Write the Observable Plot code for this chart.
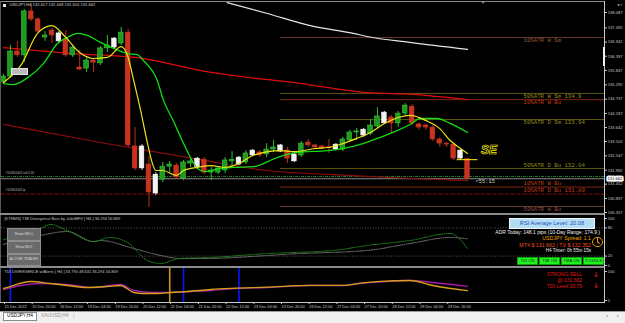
<!DOCTYPE html>
<html>
<head>
<meta charset="utf-8">
<script src="https://cdn.jsdelivr.net/npm/d3@7"></script>
<script src="https://cdn.jsdelivr.net/npm/@observablehq/plot@0.6"></script>
<style>
html,body{margin:0;padding:0;background:#000;}
#wrap{position:relative;width:625px;height:323px;background:#000;overflow:hidden;font-family:"Liberation Sans",Arial,sans-serif;}
#wrap > svg{position:absolute;left:0;top:0;}
.ov{position:absolute;box-sizing:border-box;white-space:nowrap;line-height:1;}
.btn{display:flex;align-items:center;justify-content:center;overflow:hidden;}
</style>
</head>
<body>
<div id="wrap"></div>
<script>
const W = 625, H = 323;
const symbol = "USDJPY,H4";

// ---- H4 candles (bar 0 = 15 Dec 2022 04:00) ----
const open = [
 135.38,135.61,136.58,136.43,138.13,137.82,137.12,137.39,137.28,137.04,
 136.43,135.96,135.92,136.23,136.12,136.70,137.08,136.89,137.31,132.91,
 132.91,132.21,131.82,131.63,132.13,132.17,131.67,132.25,132.44,132.40,
 131.90,131.90,131.98,132.33,132.48,132.29,132.75,132.68,132.60,132.79,
 132.95,132.75,132.60,132.56,133.06,132.95,132.91,132.89,132.98,132.79,
 133.14,133.45,133.56,133.41,133.68,134.22,134.03,133.80,134.18,134.45,
 133.76,133.72,133.64,133.18,133.02,132.98,132.75,132.417];
const high = [
 135.69,136.81,136.97,138.20,138.43,137.89,137.35,137.47,137.35,137.39,
 136.81,136.62,136.35,136.31,136.77,137.20,137.12,137.51,137.43,133.64,
 132.98,132.52,131.90,132.29,132.33,132.25,132.37,132.40,132.48,132.48,
 132.10,132.13,132.48,132.71,132.52,132.75,132.79,132.75,133.02,133.14,
 132.98,132.87,132.64,133.10,133.18,132.98,132.95,133.18,133.02,133.26,
 133.53,133.60,133.60,133.95,134.41,134.26,134.11,134.26,134.57,134.53,
 133.83,133.76,133.72,133.26,133.06,133.06,132.79,132.449];
const low = [
 135.30,135.54,136.35,136.15,137.74,137.28,136.97,136.89,136.89,136.35,
 136.35,135.85,135.77,135.77,136.04,136.54,136.70,136.81,132.87,131.98,
 131.98,130.55,131.01,131.52,131.90,131.63,131.59,132.10,132.02,131.82,
 131.59,131.82,131.86,132.10,132.17,132.21,132.52,132.48,132.48,132.68,
 132.68,132.25,132.29,132.48,132.87,132.83,132.79,132.64,132.75,132.71,
 133.06,133.14,133.26,133.33,133.60,133.76,133.41,133.64,134.11,133.72,
 133.53,133.53,133.10,132.87,132.87,132.37,132.40,131.610];
const close = [
 135.61,136.58,136.43,138.13,137.82,137.35,137.20,137.20,136.97,136.43,
 136.73,135.88,136.23,136.15,136.70,136.81,136.73,137.31,132.95,132.06,
 132.06,131.13,131.09,132.13,132.21,131.71,132.29,132.33,132.10,131.90,
 131.98,132.06,132.37,132.40,132.21,132.64,132.56,132.56,132.79,132.87,
 132.71,132.44,132.33,133.02,132.95,132.87,132.83,132.85,132.79,133.18,
 133.45,133.49,133.33,133.72,134.07,133.80,133.80,134.18,134.49,133.80,
 133.64,133.64,133.18,133.02,132.98,132.44,132.44,131.662];
const kind = [
 "g","g","r","g","r","r","g","r","w","r",
 "g","r","g","r","g","g","w","g","r","r",
 "w","r","w","g","g","r","g","g","w","r",
 "g","g","g","g","w","g","w","r","g","g",
 "w","r","w","g","r","r","r","r","w","g",
 "g","g","w","g","g","w","r","g","g","r",
 "r","r","r","r","r","r","w","r"];

// ---- moving averages (bar, value) ----
const fastBar = [0,2.5,5,7,9,11,13,15,17,18,18.8,19.8,20.8,21.5,22,23,25,26,28,30,32,34,36,40,42,45,47,49,51,53,55,57,58.7,61,63,64.5,66,67];
const fastVal = [135.38,136.04,137.31,137.58,137.12,136.54,136.31,136.35,136.77,136.35,135.46,134.30,133.02,132.25,131.98,131.98,131.79,131.98,132.10,132.17,132.10,132.25,132.56,132.75,132.71,132.83,132.87,133.02,133.22,133.45,133.80,134.03,134.11,133.91,133.60,133.14,132.83,132.64];
const slowBar = [0,1.4,3.5,5.8,7.8,9.2,10.7,12.1,14,15.9,17.9,19.3,20.2,22.2,23.1,24.5,25.8,27,28,29.1,31.3,33.2,36.1,39.5,42.4,46.8,49,51.9,54.4,56.9,58.7,60.2,62.6,64.5,67];
const slowVal = [135.34,135.30,135.57,136.12,136.89,137.12,137.28,137.20,136.93,136.70,136.50,136.46,136.23,135.46,134.69,133.91,133.14,132.48,132.06,131.94,132.06,132.10,132.13,132.48,132.68,132.75,132.83,133.02,133.26,133.53,133.76,133.99,133.99,133.80,133.45];
const longBar = [0,10,19,30,43,52.5,59,67];
const longVal = [136.73,136.50,136.35,135.77,135.34,134.99,134.92,134.72];
const darkBar = [0,14,28.4,38,47.6,58.7,67];
const darkVal = [133.76,133.06,132.40,131.98,131.82,131.67,131.59];
const whiteBar = [32.3,38.1,44.3,50.5,52.5,58.7,67];
const whiteVal = [138.47,138.05,137.58,137.28,137.16,136.93,136.66];

// ---- ATR levels ----
const levelStartBar = 40, rayEnd = 1000;
const levelPrice = [137.12,134.96,134.72,133.95,132.06,131.34,130.59];
const levelType  = ["wsm","sm","bu","sm","sm","bu","wbu"];
const labelText  = ["10%ATR W Sm","50%ATR W Sm 134.9","10%ATR W Bu","50%ATR D Sm 133.94","50%ATR D Bu 132.04","10%ATR W Bu","10%ATR D Bu 131.89","50%ATR W Bu"];
const labelPrice = [137.00,134.84,134.61,133.83,132.17,131.48,131.21,130.49];
const labelType  = ["wsm","sm","bu","sm","sm","bu","bu","wbu"];

// ---- trade lines ----
const tradeName  = ["#520801043 sell 0.30","#520801043 tp"];
const tradePrice = [131.75,131.07];
const tradeType  = ["sell","tp"];
const sigRay = [{x1:65.5, x2:68.5, p:132.40}];
const sigMark = [{b:70.1, p:132.75, t:"SE"}];
const timerText = "<55:15";

// ---- price axis ticks ----
const priceTicks = [138.087,137.492,136.942,136.397,135.847,135.292,134.737,134.187,133.642,133.102,132.547,131.992,131.452,130.897,130.357];

// ---- T3E panel ----
const t3eGreenBar = [0,5.3,6.8,9.2,13,15.4,17.9,20.8,22.7,25.5,29.9,38.1,47.6,52.5,58.7,64.5,67];
const t3eGreenVal = [55,78.7,87.2,74.5,51,59.6,48.9,10.6,4.3,14.9,17,25.5,31.9,42.6,53.2,68.1,36.294];
const t3eGrayBar = [0,5.3,9.2,13,14,18.8,22.7,25.5,28.4,42.9,52.5,58.7,64.5,67];
const t3eGrayVal = [45,63.8,72.3,51,53.2,36.2,21.3,14.9,14.9,25.5,31.9,46.8,59.6,56.869];
const t3eLevels = [80,20];
const t3eTicks = [100,80,20,0];

// ---- TDI panel ----
const tdiOrangeBar = [0,1.4,3.9,6.8,9.2,12.1,15,16.9,18.8,20.2,22.2,24.1,26.6,29.9,33.2,38.1,44.3,49.1,51.5,54.4,58.7,62,67];
const tdiOrangeVal = [41.4,51.7,65.5,58.6,51.7,44.8,48.3,51.7,27.6,24.1,24.1,27.6,31,37.9,42,46,52.5,52,60,66,69,51.7,33.79];
const tdiPurpleBar = [0,2.5,5.3,9.2,13,16.9,18.8,21.6,24.1,27,29.9,33.2,38.1,44.3,49.1,51.5,54.4,58.7,62,67];
const tdiPurpleVal = [37.9,51.7,58.6,55.2,44.8,55.2,34.5,27.6,27.6,31,34.5,41.4,44.8,51.7,51.7,58.6,63.8,69,62,48.631];
const blueSignalBars = [1,26,34];
const orangeSignalBars = [24];
const tdiTicks = [100,0];

// ---- time axis ----
const timeTicks = [0,4,8,12,16,20,24,28,32,36,40,44,48,52,56,60,64];
const timeLabels = ["15 Dec 2022","15 Dec 20:00","16 Dec 12:00","19 Dec 04:00","19 Dec 20:00","20 Dec 12:00","21 Dec 04:00","21 Dec 20:00","22 Dec 12:00","23 Dec 04:00","23 Dec 20:00","26 Dec 12:00","27 Dec 04:00","27 Dec 20:00","28 Dec 12:00","29 Dec 04:00","29 Dec 20:00"];

// ---------------------------------------------------------------
const candles = open.map((o, i) => ({i, o, h: high[i], l: low[i], c: close[i], k: kind[i]}));
const pts = (bars, vals) => bars.map((b, j) => ({b, v: vals[j]}));
const levels = levelPrice.map((p, j) => ({p, t: levelType[j]}));
const labels = labelText.map((s, j) => ({s, p: labelPrice[j], t: labelType[j]}));
const trades = tradeName.map((s, j) => ({s, p: tradePrice[j], t: tradeType[j]}));
const last = candles[candles.length - 1];
const f3 = d => d.toFixed(3);

const bodyFill = {g: "#1f9a1f", r: "#c8321e", w: "#f2f2f2"};
const bodyStroke = {g: "#3ed83e", r: "#d23a24", w: "#ffffff"};
const wickColor = {g: "#2fbf2f", r: "#b8301c", w: "#d8d8d8"};
const levelStroke = {wsm: "#6e3a2c", sm: "#66620f", bu: "#8e2a12", wbu: "#6e4436"};
const levelDash = {wsm: "1.2,1.2", sm: "2.6,1.4", bu: "1,1.2", wbu: "1.2,1.2"};
const labelFill = {wsm: "#9c5638", sm: "#928c1c", bu: "#c23a16", wbu: "#945040"};
const tradeStroke = {sell: "#2e8a2e", tp: "#a01010"};

const wrap = document.getElementById("wrap");
function ov(css, text) {
  const d = document.createElement("div");
  d.className = "ov";
  d.style.cssText = css;
  if (text != null) d.textContent = text;
  wrap.appendChild(d);
  return d;
}

// window chrome
ov("left:0;top:1px;width:604px;height:1px;background:#8a8a8a");
ov("left:0;top:1px;width:1px;height:301px;background:#5a5a5a");
ov("left:0;top:213px;width:604px;height:1.6px;background:#8c8c8c");
ov("left:0;top:266.4px;width:604px;height:1.6px;background:#8c8c8c");
ov("left:604px;top:1px;width:1px;height:302px;background:#c8c8c8");
ov("left:0;top:302px;width:605px;height:1px;background:#c8c8c8");

const common = {
  width: W, height: H, marginLeft: 1, marginRight: W - 604,
  color: {type: "identity"},
  style: {background: "transparent", overflow: "visible", color: "#c8c8c8", fontFamily: "'Liberation Sans', Arial, sans-serif"}
};
const xs = {domain: [0, 67], range: [3, 467]};

// ---------------- main price panel ----------------
const main = Plot.plot({
  ...common,
  marginTop: 2, marginBottom: H - 213,
  x: {...xs, axis: null},
  y: {domain: [130.357, 138.087], range: [212, 12]},
  marks: [
    Plot.ruleY(levels, {y: "p", x1: () => levelStartBar, x2: () => rayEnd, stroke: d => levelStroke[d.t], strokeDasharray: d => levelDash[d.t], strokeWidth: 0.9, clip: true}),
    Plot.ruleY(trades, {y: "p", stroke: d => tradeStroke[d.t], strokeDasharray: "3,1,1,1", strokeWidth: 0.9}),
    Plot.ruleY([last.c], {y: d => d, stroke: "#9a9a9a", strokeWidth: 0.9}),
    Plot.text(labels, {y: "p", text: "s", frameAnchor: "right", dx: -81, textAnchor: "start", lineAnchor: "middle", fill: d => labelFill[d.t], fontSize: 5.7, fontFamily: "'Liberation Mono', monospace"}),
    Plot.text(trades, {y: "p", text: "s", frameAnchor: "left", dx: 4, dy: -3.8, textAnchor: "start", fill: "#b8b8b8", fontSize: 3}),
    Plot.line(pts(darkBar, darkVal), {x: "b", y: "v", stroke: "#8e0c0c", strokeWidth: 1.1, curve: "monotone-x", clip: true}),
    Plot.line(pts(longBar, longVal), {x: "b", y: "v", stroke: "#e00c0c", strokeWidth: 1.3, curve: "monotone-x", clip: true}),
    Plot.line(pts(whiteBar, whiteVal), {x: "b", y: "v", stroke: "#e6e6e6", strokeWidth: 1.2, curve: "monotone-x", clip: true}),
    Plot.ruleX(candles, {x: "i", y1: "l", y2: "h", stroke: d => wickColor[d.k], strokeWidth: 1, clip: true}),
    Plot.rect(candles, {x1: d => d.i - 0.34, x2: d => d.i + 0.34, y1: "o", y2: "c", fill: d => bodyFill[d.k], stroke: d => bodyStroke[d.k], strokeWidth: 0.5, clip: true}),
    Plot.line(pts(slowBar, slowVal), {x: "b", y: "v", stroke: "#12dc12", strokeWidth: 1.3, curve: "monotone-x", clip: true}),
    Plot.line(pts(fastBar, fastVal), {x: "b", y: "v", stroke: "#ece21a", strokeWidth: 1.2, curve: "monotone-x", clip: true}),
    Plot.ruleY(sigRay, {y: "p", x1: "x1", x2: "x2", stroke: "#ece21a", strokeWidth: 1.1}),
    Plot.text(sigMark, {x: "b", y: "p", text: "t", fill: "none", stroke: "#f4ea10", strokeWidth: 0.7, fontSize: 12, fontStyle: "italic", fontWeight: "bold"}),
    Plot.text([last], {x: "i", y: "c", text: () => timerText, dx: 8, dy: 2.6, textAnchor: "start", fill: "#d0d0d0", fontSize: 5.4, fontFamily: "'Liberation Mono', monospace"}),
    Plot.text([last], {frameAnchor: "top-left", dx: 8, dy: 1, lineAnchor: "top", textAnchor: "start", fill: "#d4d4d4", fontSize: 4.1,
      text: d => `${symbol} ${f3(d.o)} ${f3(d.h)} ${f3(d.l)} ${f3(d.c)}`}),
    Plot.axisY(priceTicks, {anchor: "right", tickSize: 2, tickPadding: 1.2, fontSize: 4.1, tickFormat: f3}),
    Plot.text([last.c], {y: d => d, text: f3, frameAnchor: "right", dx: 10.5, textAnchor: "middle", fill: "#000", stroke: "#fff", strokeWidth: 3.2, paintOrder: "stroke", fontSize: 4.1})
  ]
});
wrap.appendChild(main);

// ---------------- T3E panel ----------------
const gLast = t3eGreenVal[t3eGreenVal.length - 1], grLast = t3eGrayVal[t3eGrayVal.length - 1];
const p2 = Plot.plot({
  ...common,
  marginTop: 215, marginBottom: H - 266,
  x: {...xs, axis: null},
  y: {domain: [0, 100], range: [265, 218]},
  marks: [
    Plot.ruleY(t3eLevels, {stroke: "#6e6e6e", strokeDasharray: "1,1.6", strokeWidth: 0.8}),
    Plot.line(pts(t3eGrayBar, t3eGrayVal), {x: "b", y: "v", stroke: "#8a8a8a", strokeDasharray: "1,1.2", strokeWidth: 0.9, curve: "monotone-x", clip: true}),
    Plot.line(pts(t3eGreenBar, t3eGreenVal), {x: "b", y: "v", stroke: "#1c8c1c", strokeDasharray: "1,1.2", strokeWidth: 1, curve: "monotone-x", clip: true}),
    Plot.axisY(t3eTicks, {anchor: "right", tickSize: 2, tickPadding: 1.2, fontSize: 4}),
    Plot.text([0], {frameAnchor: "top-left", dx: 3, dy: 2, lineAnchor: "top", textAnchor: "start", fill: "#c4c4c4", fontSize: 4,
      text: () => `[KTHMS] T3E Divergence Bars by JulieMFX [ H4 ] ${f3(gLast)} ${f3(grLast)}`})
  ]
});
wrap.appendChild(p2);

// ---------------- TDI panel ----------------
const oLast = tdiOrangeVal[tdiOrangeVal.length - 1], pLast = tdiPurpleVal[tdiPurpleVal.length - 1];
const p3 = Plot.plot({
  ...common,
  marginTop: 268, marginBottom: H - 302,
  x: xs,
  y: {domain: [0, 100], range: [300, 271]},
  marks: [
    Plot.ruleX(blueSignalBars, {x: d => d, stroke: "#0a14ff", strokeWidth: 1.6}),
    Plot.ruleX(orangeSignalBars, {x: d => d, stroke: "#c8961e", strokeWidth: 1.6}),
    Plot.line(pts(tdiPurpleBar, tdiPurpleVal), {x: "b", y: "v", stroke: "#a41ca4", strokeWidth: 1.3, curve: "monotone-x", clip: true}),
    Plot.line(pts(tdiOrangeBar, tdiOrangeVal), {x: "b", y: "v", stroke: "#d4a01c", strokeWidth: 1.3, curve: "monotone-x", clip: true}),
    Plot.axisY(tdiTicks, {anchor: "right", tickSize: 2, tickPadding: 1.2, fontSize: 4}),
    Plot.axisX(timeTicks, {anchor: "bottom", tickSize: 2, tickPadding: 0.3, fontSize: 3.9, textAnchor: "start", dx: 1,
      tickFormat: d => timeLabels[timeTicks.indexOf(d)]}),
    Plot.text([0], {frameAnchor: "top-left", dx: 3, dy: 2, lineAnchor: "top", textAnchor: "start", fill: "#c4c4c4", fontSize: 4,
      text: () => `TDI DIVERGENCE w/Alerts [ H4 ] ${oLast.toFixed(3)} ${pLast.toFixed(3)} ${f3(gLast)} ${f3(grLast)}`})
  ]
});
wrap.appendChild(p3);

// ---------------- overlays (terminal UI objects) ----------------
ov("left:3px;top:3.5px;width:3px;height:3px;background:#e6e6e6");
ov("left:11px;top:68px;width:17px;height:6.5px;background:#bdbdbd;border:0.6px solid #e4e4e4");
ov("left:481px;top:0.5px;font-size:4px;color:#a8a8a8", "▼");
ov("left:602.8px;top:47px;width:2.2px;height:19px;background:#f2f2f2");

[["Show SELL", 228, 13], ["Show BUY", 241, 13], ["ACTIVE TRADES", 254, 12.4]].forEach(([t, top, h]) => {
  const b = ov(`left:7px;top:${top}px;width:34px;height:${h}px;background:#6a6a6a;border:0.8px solid #8e8e8e;color:#dcdcdc;font-size:3.6px`, t);
  b.classList.add("btn");
});

const rsi = ov("left:509px;top:218px;width:86px;height:11px;background:#b4dcf2;border:1px solid #eef8ff;color:#2050c0;font-size:5.7px", "RSI Average Level: 20.08");
rsi.classList.add("btn");
ov("right:25px;top:230.4px;font-size:5px;color:#ececec", "ADR Today: 148.1 pips (10-Day Range: 174.9 )");
ov("right:34px;top:236.3px;font-size:5.2px;color:#f0a400", "USDJPY Spread: 1.1");
ov("left:592px;top:236.6px;width:10.5px;height:10.5px;border:1px solid #e09a10;border-radius:50%");
ov("left:596.9px;top:238.3px;width:0.9px;height:4px;background:#e09a10");
ov("left:597.3px;top:241.8px;width:2.6px;height:0.9px;background:#e09a10;transform:rotate(35deg)");
ov(`right:34px;top:242.7px;font-size:5.3px;color:#e8501c`, `MT4 $ ${f3(last.c)} | TV $ 132.352`);
ov("right:34px;top:249.3px;font-size:4.6px;color:#ececec", "H4 Timer: 0h 55m 15s");
[["TDI ON", 517], ["T3E ON", 539], ["TMA ON", 561], ["TOGGLE", 583]].forEach(([t, l]) => {
  const b = ov(`left:${l}px;top:256.6px;width:21px;height:8.6px;background:#22f222;border:0.8px solid #0aa00a;color:#0a300a;font-size:4.2px`, t);
  b.classList.add("btn");
});

ov("right:43px;top:272.3px;font-size:5px;color:#e01414", "STRONG SELL");
ov("right:43px;top:278.3px;font-size:5px;color:#e01414", `@ ${f3(last.c)}`);
ov("right:43px;top:284.3px;font-size:5px;color:#e01414", `TDI Level ${oLast.toFixed(2)}`);
ov("left:593px;top:271.5px;font-size:7px;font-weight:bold;color:#e01414;font-family:'DejaVu Sans'", "↓");
ov("left:593px;top:282.5px;font-size:7px;font-weight:bold;color:#e01414;font-family:'DejaVu Sans'", "↓");

// tab bar
ov("left:0;top:310.5px;width:625px;height:12.5px;background:#f0f0f0;border-top:1px solid #9a9a9a");
const tab = ov("left:3px;top:312px;width:34px;height:9px;background:#fff;border:0.8px solid #8a8a8a;color:#000;font-size:4.8px", symbol);
tab.classList.add("btn");
ov("left:41px;top:314px;font-size:4.8px;color:#909090", "XAUUSD,H4");
ov("left:73px;top:313px;font-size:5.5px;color:#b0b0b0", "|");
ov("left:606px;top:314px;font-size:4.2px;color:#9a9a9a", "◂");
ov("left:617px;top:314px;font-size:4.2px;color:#9a9a9a", "▸");
</script>
</body>
</html>
